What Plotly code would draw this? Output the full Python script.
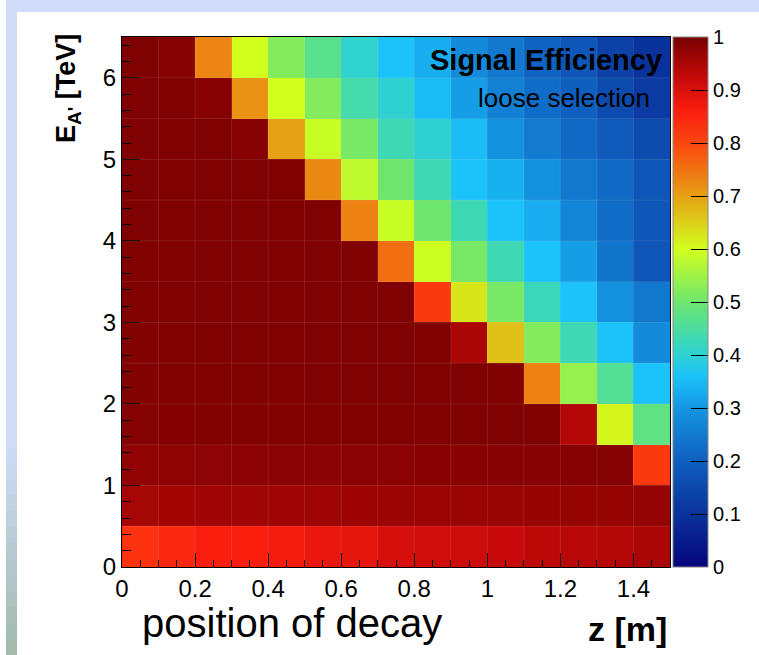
import plotly.graph_objects as go

# ---------------- data ----------------
z_edges = [0.0, 0.1, 0.2, 0.3, 0.4, 0.5, 0.6, 0.7, 0.8, 0.9, 1.0, 1.1, 1.2, 1.3, 1.4, 1.5]
E_edges = [0.0, 0.5, 1.0, 1.5, 2.0, 2.5, 3.0, 3.5, 4.0, 4.5, 5.0, 5.5, 6.0, 6.5]

# efficiency per E bin (bottom -> top), 15 z bins each
eff_E_0_0p5 = [0.83, 0.845, 0.86, 0.86, 0.866, 0.88, 0.885, 0.905, 0.91, 0.915, 0.92, 0.93, 0.935, 0.94, 0.95]
eff_E_0p5_1 = [0.955, 0.957, 0.958, 0.96, 0.96, 0.962, 0.963, 0.964, 0.965, 0.966, 0.967, 0.968, 0.969, 0.97, 0.972]
eff_E_1_1p5 = [0.975, 0.977, 0.978, 0.979, 0.98, 0.98, 0.981, 0.982, 0.983, 0.984, 0.985, 0.985, 0.986, 0.987, 0.82]
eff_E_1p5_2 = [0.988, 0.989, 0.99, 0.99, 0.99, 0.991, 0.991, 0.991, 0.992, 0.992, 0.992, 0.993, 0.94, 0.61, 0.48]
eff_E_2_2p5 = [0.99, 0.99, 0.991, 0.992, 0.992, 0.993, 0.993, 0.993, 0.993, 0.993, 0.99, 0.733, 0.54, 0.46, 0.36]
eff_E_2p5_3 = [0.99, 0.991, 0.992, 0.992, 0.993, 0.993, 0.993, 0.993, 0.992, 0.95, 0.665, 0.52, 0.43, 0.36, 0.28]
eff_E_3_3p5 = [0.991, 0.992, 0.993, 0.993, 0.993, 0.993, 0.993, 0.992, 0.82, 0.626, 0.51, 0.425, 0.36, 0.29, 0.245]
eff_E_3p5_4 = [0.991, 0.992, 0.993, 0.993, 0.993, 0.993, 0.992, 0.755, 0.595, 0.51, 0.43, 0.36, 0.31, 0.24, 0.18]
eff_E_4_4p5 = [0.992, 0.993, 0.993, 0.993, 0.993, 0.992, 0.733, 0.59, 0.50, 0.43, 0.36, 0.33, 0.27, 0.225, 0.18]
eff_E_4p5_5 = [0.992, 0.993, 0.993, 0.993, 0.992, 0.725, 0.58, 0.50, 0.43, 0.36, 0.335, 0.29, 0.245, 0.22, 0.18]
eff_E_5_5p5 = [0.993, 0.993, 0.993, 0.985, 0.70, 0.59, 0.51, 0.43, 0.40, 0.35, 0.29, 0.25, 0.22, 0.19, 0.155]
eff_E_5p5_6 = [0.993, 0.993, 0.985, 0.716, 0.60, 0.52, 0.44, 0.40, 0.35, 0.31, 0.26, 0.225, 0.20, 0.155, 0.12]
eff_E_6_6p5 = [0.993, 0.985, 0.73, 0.60, 0.52, 0.47, 0.405, 0.36, 0.33, 0.28, 0.245, 0.21, 0.18, 0.135, 0.10]

x_tick_vals = [0, 0.2, 0.4, 0.6, 0.8, 1.0, 1.2, 1.4]
x_tick_text = ["0", "0.2", "0.4", "0.6", "0.8", "1", "1.2", "1.4"]
y_tick_vals = [0, 1, 2, 3, 4, 5, 6]
y_tick_text = ["0", "1", "2", "3", "4", "5", "6"]
cb_tick_vals = [0, 0.1, 0.2, 0.3, 0.4, 0.5, 0.6, 0.7, 0.8, 0.9, 1.0]
cb_tick_text = ["0", "0.1", "0.2", "0.3", "0.4", "0.5", "0.6", "0.7", "0.8", "0.9", "1"]

Z = [eff_E_0_0p5, eff_E_0p5_1, eff_E_1_1p5, eff_E_1p5_2, eff_E_2_2p5, eff_E_2p5_3,
     eff_E_3_3p5, eff_E_3p5_4, eff_E_4_4p5, eff_E_4p5_5, eff_E_5_5p5, eff_E_5p5_6, eff_E_6_6p5]
x_c = [(a + b) / 2 for a, b in zip(z_edges[:-1], z_edges[1:])]
y_c = [(a + b) / 2 for a, b in zip(E_edges[:-1], E_edges[1:])]

# ---------------- layout geometry (pixels) ----------------
W, H = 759, 655
L, R, T, B = 122, 670, 37, 567
pw, ph = R - L, B - T

def px(x):
    return (x - L) / pw

def py(y):
    return (B - y) / ph

FONT = "Liberation Sans, Arial, Helvetica, sans-serif"

colorscale = [
    [0.00, "rgb(5,5,125)"],
    [0.10, "rgb(10,50,155)"],
    [0.20, "rgb(15,95,190)"],
    [0.30, "rgb(20,150,225)"],
    [0.36, "rgb(28,195,250)"],
    [0.42, "rgb(55,215,190)"],
    [0.50, "rgb(110,230,110)"],
    [0.60, "rgb(210,255,30)"],
    [0.70, "rgb(230,160,20)"],
    [0.80, "rgb(250,70,15)"],
    [0.86, "rgb(250,30,15)"],
    [0.92, "rgb(200,10,10)"],
    [1.00, "rgb(120,0,0)"],
]

fig = go.Figure()
fig.add_trace(go.Heatmap(
    x=x_c, y=y_c, z=Z, zmin=0, zmax=1, colorscale=colorscale,
    hoverinfo="skip",
    colorbar=dict(
        x=px(673), xanchor="left", xref="paper", y=0.5, yanchor="middle",
        len=1, lenmode="fraction", thickness=35, thicknessmode="pixels",
        xpad=0, ypad=0, outlinewidth=1, outlinecolor="#888888",
        tickmode="array", tickvals=cb_tick_vals, ticktext=cb_tick_text,
        ticks="inside", ticklen=17, tickcolor="black", tickwidth=1,
        tickfont=dict(family=FONT, size=20, color="black"),
    ),
))

shapes = []
# faint cell borders
for xe in z_edges[1:-1]:
    shapes.append(dict(type="line", xref="x", yref="y", x0=xe, x1=xe, y0=E_edges[0], y1=E_edges[-1],
                       line=dict(color="rgba(220,220,220,0.13)", width=1), layer="above"))
for ye in E_edges[1:-1]:
    shapes.append(dict(type="line", xref="x", yref="y", x0=z_edges[0], x1=z_edges[-1], y0=ye, y1=ye,
                       line=dict(color="rgba(220,220,220,0.13)", width=1), layer="above"))

# slide frame: top band and left band with gradient
shapes.append(dict(type="rect", xref="paper", yref="paper", x0=px(6), x1=px(W + 2), y0=py(-2), y1=py(12),
                   fillcolor="rgb(208,220,250)", line=dict(width=0), layer="below"))
n = 40
top_c = (208, 220, 250)
bot_c = (160, 186, 170)
for i in range(n):
    y0p = 12 + (H - 12) * i / n
    y1p = 12 + (H - 12) * (i + 1) / n + 0.5
    t = max(0.0, ((y0p + y1p) / 2 - 440) / (H - 440))
    c = tuple(int(round(top_c[k] + (bot_c[k] - top_c[k]) * t)) for k in range(3))
    shapes.append(dict(type="rect", xref="paper", yref="paper", x0=px(6), x1=px(17),
                       y0=py(y1p), y1=py(y0p), fillcolor="rgb(%d,%d,%d)" % c,
                       line=dict(width=0), layer="below"))

annotations = [
    dict(text="<b>E<sub>A'</sub> [TeV]</b>", textangle=-90, xref="paper", yref="paper",
         x=px(68), y=py(89), xanchor="center", yanchor="middle", showarrow=False,
         font=dict(family=FONT, size=27, color="black")),
    dict(text="<b>z [m]</b>", xref="paper", yref="paper", x=px(669), y=py(629),
         xanchor="right", yanchor="middle", showarrow=False,
         font=dict(family=FONT, size=34, color="black")),
    dict(text="position of decay", xref="paper", yref="paper", x=px(140), y=py(623),
         xanchor="left", yanchor="middle", showarrow=False,
         font=dict(family=FONT, size=40, color="black")),
    dict(text="<b>Signal Efficiency</b>", xref="paper", yref="paper", x=px(664), y=py(60),
         xanchor="right", yanchor="middle", showarrow=False,
         font=dict(family=FONT, size=29, color="black")),
    dict(text="loose selection", xref="paper", yref="paper", x=px(652), y=py(98),
         xanchor="right", yanchor="middle", showarrow=False,
         font=dict(family=FONT, size=26, color="black")),
]

fig.update_layout(
    width=W, height=H, margin=dict(l=L, r=W - R, t=T, b=H - B, autoexpand=False),
    paper_bgcolor="white", plot_bgcolor="white",
    shapes=shapes, annotations=annotations, showlegend=False,
    font=dict(family=FONT, color="black"),
)
fig.update_xaxes(
    range=[z_edges[0], z_edges[-1]], tickmode="array", tickvals=x_tick_vals, ticktext=x_tick_text,
    ticks="inside", ticklen=14, tickwidth=1, tickcolor="black",
    minor=dict(dtick=0.05, ticks="inside", ticklen=7, tickcolor="black", showgrid=False),
    showline=True, linecolor="black", linewidth=1, mirror=True, showgrid=False, zeroline=False,
    tickfont=dict(family=FONT, size=24, color="black"), layer="above traces",
)
fig.update_yaxes(
    range=[E_edges[0], E_edges[-1]], tickmode="array", tickvals=y_tick_vals, ticktext=y_tick_text,
    ticks="inside", ticklen=18, tickwidth=1, tickcolor="black",
    minor=dict(dtick=0.2, ticks="inside", ticklen=9, tickcolor="black", showgrid=False),
    showline=True, linecolor="black", linewidth=1, mirror=True, showgrid=False, zeroline=False,
    tickfont=dict(family=FONT, size=24, color="black"), layer="above traces",
)

fig.write_html("out.html")
